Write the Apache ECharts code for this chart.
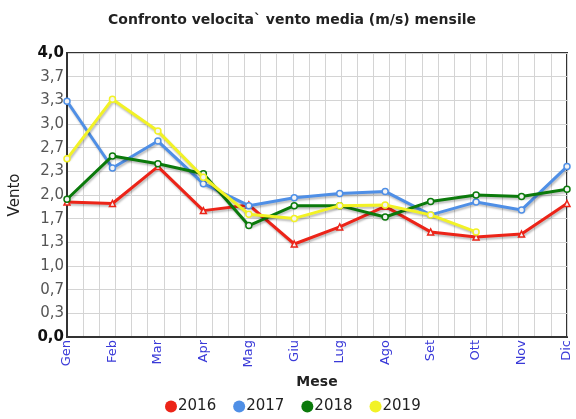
<!DOCTYPE html>
<html>
<head>
<meta charset="utf-8">
<script src="https://cdn.jsdelivr.net/npm/echarts@6/dist/echarts.min.js"></script>
<style>
  html, body { margin: 0; padding: 0; background: #fff; }
  #chart { width: 576px; height: 419px; }
</style>
</head>
<body>
<div id="chart"></div>
<script>
var mesi = ['Gen', 'Feb', 'Mar', 'Apr', 'Mag', 'Giu', 'Lug', 'Ago', 'Set', 'Ott', 'Nov', 'Dic'];
var anni = ['2016', '2017', '2018', '2019'];
var v2016 = [1.90, 1.88, 2.40, 1.78, 1.86, 1.31, 1.55, 1.84, 1.48, 1.41, 1.45, 1.88];
var v2017 = [3.32, 2.38, 2.76, 2.16, 1.85, 1.96, 2.02, 2.05, 1.72, 1.90, 1.79, 2.40];
var v2018 = [1.94, 2.55, 2.44, 2.30, 1.57, 1.85, 1.85, 1.69, 1.91, 2.00, 1.98, 2.08];
var v2019 = [2.51, 3.35, 2.90, 2.25, 1.73, 1.67, 1.85, 1.86, 1.72, 1.48, null, null];

var colori = ['#ec2418', '#4f8fe6', '#0b7a0b', '#f2f226'];
var simboli = ['triangle', 'circle', 'circle', 'circle'];
var valori = [v2016, v2017, v2018, v2019];

var font = 'DejaVu Sans, Verdana, sans-serif';

function serie(i) {
    return {
        name: anni[i],
        type: 'line',
        data: valori[i],
        xAxisIndex: 0,
        symbol: simboli[i],
        symbolSize: 6,
        showSymbol: true,
        connectNulls: false,
        lineStyle: {
            width: 3,
            color: colori[i],
            shadowColor: 'rgba(0,0,0,0.25)',
            shadowBlur: 2,
            shadowOffsetX: 1,
            shadowOffsetY: 2
        },
        itemStyle: {
            color: '#f4f4f4',
            borderColor: colori[i],
            borderWidth: 1.5
        },
        emphasis: { disabled: true },
        z: 3 + i
    };
}

var chart = echarts.init(document.getElementById('chart'));
chart.setOption({
    animation: false,
    textStyle: { fontFamily: font },
    title: {
        text: 'Confronto velocita` vento media (m/s) mensile',
        left: 287,
        textAlign: 'center',
        top: 8,
        textStyle: { fontSize: 14, fontWeight: 'bold', color: '#222', fontFamily: font }
    },
    legend: {
        bottom: 0,
        left: 160,
        itemGap: 17,
        itemWidth: 12,
        itemHeight: 12,
        icon: 'circle',
        data: anni.map(function (a, i) {
            return { name: a, itemStyle: { color: colori[i], borderWidth: 0 } };
        }),
        textStyle: { fontSize: 15, color: '#222', padding: [0, 0, 0, -4], fontFamily: font }
    },
    grid: {
        left: 66,
        right: 9,
        top: 53,
        bottom: 82,
        show: true,
        borderColor: '#333',
        borderWidth: 2
    },
    xAxis: [{
        type: 'category',
        data: mesi,
        boundaryGap: false,
        name: 'Mese',
        nameLocation: 'middle',
        nameGap: 38,
        nameTextStyle: { fontSize: 14, fontWeight: 'bold', color: '#222', fontFamily: font },
        axisLine: { lineStyle: { color: '#333', width: 2 } },
        axisTick: { show: false },
        splitLine: { show: false },
        axisLabel: {
            rotate: 90,
            color: '#3a3ad8',
            fontSize: 13,
            margin: 3,
            fontFamily: font
        }
    }, {
        type: 'value',
        min: 0,
        max: 31,
        interval: 1,
        show: true,
        position: 'top',
        axisLine: { show: false },
        axisTick: { show: false },
        axisLabel: { show: false },
        splitLine: { show: true, lineStyle: { color: '#d4d4d4', width: 1 } }
    }],
    yAxis: {
        type: 'value',
        min: 0,
        max: 4,
        interval: 4 / 12,
        name: 'Vento',
        nameLocation: 'middle',
        nameGap: 44,
        nameTextStyle: { fontSize: 15, color: '#222', fontFamily: font },
        axisLine: { show: true, lineStyle: { color: '#333', width: 2 } },
        axisTick: { show: false },
        splitLine: { show: true, lineStyle: { color: '#d4d4d4', width: 1 } },
        axisLabel: {
            margin: 3,
            fontFamily: font,
            formatter: function (v) {
                var s = v.toFixed(1).replace('.', ',');
                if (Math.abs(v) < 1e-6 || Math.abs(v - 4) < 1e-6) {
                    return '{b|' + s + '}';
                }
                return '{n|' + s + '}';
            },
            rich: {
                b: { fontWeight: 'bold', color: '#111', fontSize: 15, fontFamily: font },
                n: { color: '#555', fontSize: 15, fontFamily: font }
            }
        }
    },
    series: [serie(0), serie(1), serie(2), serie(3)]
});
</script>
</body>
</html>
